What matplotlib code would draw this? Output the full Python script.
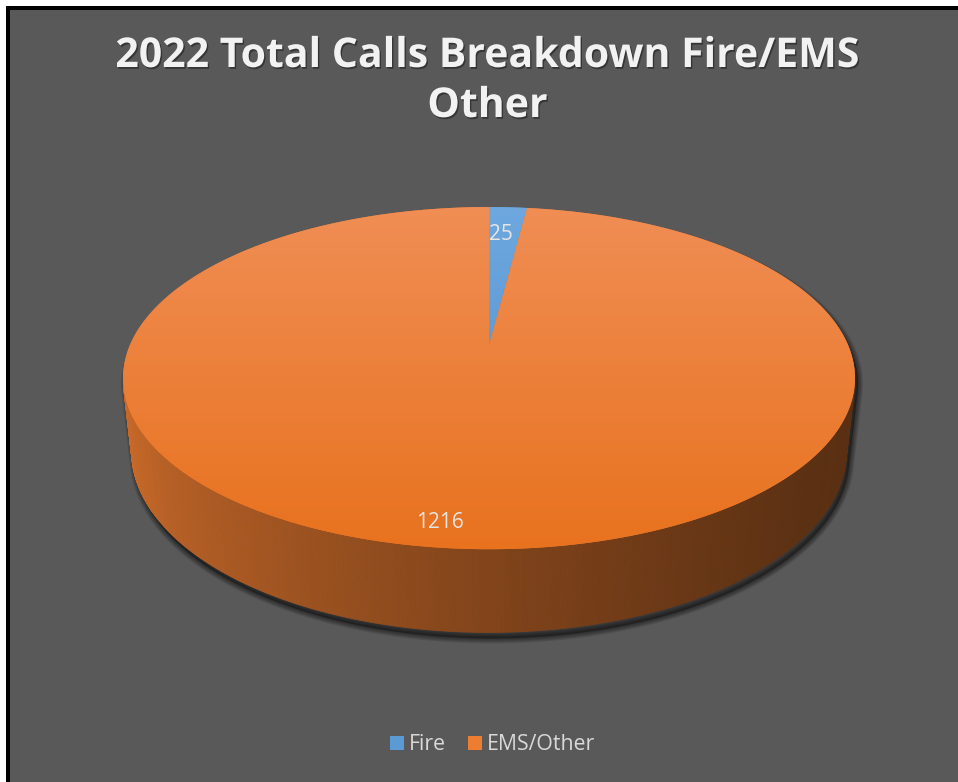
import numpy as np
import matplotlib
matplotlib.use("Agg")
import matplotlib.pyplot as plt
from matplotlib.patches import Polygon, Rectangle, Patch
from matplotlib.collections import PolyCollection
import matplotlib.patheffects as pe
from matplotlib.colors import LinearSegmentedColormap, to_rgb

# ---------------- data ----------------
title_lines = ["2022 Total Calls Breakdown Fire/EMS", "Other"]
categories = ["Fire", "EMS/Other"]
values = [25, 1216]

# ---------------- style ----------------
colors = ["#5B9BD5", "#ED7D31"]
top_light = ["#6EA8DF", "#F08E55"]
top_dark = ["#4A8BCB", "#E8721E"]
BG = "#595959"
TEXT_COL = "#D9D9D9"
LABEL_COL = "#E6E6E6"
FONT = ["Open Sans", "DejaVu Sans"]

W, H = 958, 782
# 3-D pie camera / layout parameters (pixel space)
CX, CY, SCALE = 489.0, 345.0, 1648.0
ELEV, DIST, THICK = np.radians(27.3), 4.59, 0.231
ce, se = np.cos(ELEV), np.sin(ELEV)
LABEL_R = [0.79, 0.90]
LABEL_DANG = [0.0, np.radians(-3.6)]


def project(r, phi, z):
    x = r * np.cos(phi)
    y = r * np.sin(phi)
    d = DIST + y * ce - z * se
    return CX + SCALE * x / d, CY - SCALE * (y * se + z * ce) / d


fig = plt.figure(figsize=(W / 100, H / 100), dpi=100, facecolor="white")
ax = fig.add_axes([0, 0, 1, 1])
ax.axis("off")

ax.add_patch(Rectangle((8, 8), W + 20, H + 20, facecolor=BG,
                       edgecolor="black", linewidth=2.9, zorder=0))

frac = np.array(values, dtype=float) / np.sum(values)
cum = np.concatenate([[0.0], np.cumsum(frac)])
bounds = np.pi / 2 - 2 * np.pi * cum  # clockwise from 12 o'clock

# ---- shadow (silhouette) ----
phi0 = np.arcsin(1.0 / (DIST * ce))
t_phi = np.linspace(-phi0, np.pi + phi0, 300)
b_phi = np.linspace(np.pi + phi0, 2 * np.pi - phi0, 300)
tx, ty = project(1.0, t_phi, 0.0)
bx, by = project(1.0, b_phi, -THICK)
sil = np.column_stack([np.r_[tx, bx], np.r_[ty, by]])
sh = sil + np.array([3.0, 6.0])
for k in range(1, 11):
    ax.add_patch(Polygon(sh, closed=True, facecolor="none", edgecolor="black",
                         linewidth=k * 0.75, alpha=0.05, joinstyle="round",
                         zorder=1))
ax.add_patch(Polygon(sh, closed=True, facecolor="black", edgecolor="none",
                     alpha=0.35, zorder=1))

# ---- side wall ----
side_phi = np.linspace(-np.pi + phi0, -phi0, 400)
quads, qcols = [], []
for a, b in zip(side_phi[:-1], side_phi[1:]):
    xa, ya = project(1.0, a, 0.0)
    xb, yb = project(1.0, b, 0.0)
    xa2, ya2 = project(1.0, a, -THICK)
    xb2, yb2 = project(1.0, b, -THICK)
    quads.append([(xa, ya), (xb, yb), (xb2, yb2), (xa2, ya2)])
    m = 0.5 * (a + b)
    t = ((np.pi / 2 - m) % (2 * np.pi)) / (2 * np.pi)
    idx = min(np.searchsorted(cum[1:], t), len(values) - 1)
    shade = 0.636 - 0.242 * np.cos(m) + 0.0858 * np.sin(m)
    qcols.append(np.clip(np.array(to_rgb(colors[idx])) * shade, 0, 1))
ax.add_collection(PolyCollection(quads, facecolors=qcols, edgecolors=qcols,
                                 linewidths=0.6, zorder=2))

# ---- top face wedges ----
_, ytop = project(1.0, np.pi / 2, 0.0)
_, ybot = project(1.0, -np.pi / 2, 0.0)
ax0, ay0 = project(0.0, 0.0, 0.0)
grad = np.linspace(0, 1, 256).reshape(-1, 1)
for i in range(len(values)):
    n = max(int(abs(bounds[i + 1] - bounds[i]) / (2 * np.pi) * 720), 8)
    ph = np.linspace(bounds[i], bounds[i + 1], n)
    xs, ys = project(1.0, ph, 0.0)
    poly = Polygon(np.column_stack([np.r_[ax0, xs], np.r_[ay0, ys]]),
                   closed=True, facecolor=colors[i], edgecolor="none",
                   zorder=3)
    ax.add_patch(poly)
    cmap = LinearSegmentedColormap.from_list("g%d" % i,
                                             [top_light[i], top_dark[i]])
    im = ax.imshow(grad, extent=(CX - 400, CX + 400, ybot + 2, ytop - 2),
                   cmap=cmap, aspect="auto", origin="upper", zorder=3.5,
                   interpolation="bilinear")
    im.set_clip_path(poly)

# ---- data labels ----
for i, v in enumerate(values):
    mid = 0.5 * (bounds[i] + bounds[i + 1]) + LABEL_DANG[i]
    lx, ly = project(LABEL_R[i], mid, 0.0)
    ax.text(lx - (4 if i == 0 else 0), ly + (2 if i == 0 else 0), str(v),
            ha="center", va="center", fontsize=15,
            family=FONT, color=LABEL_COL, zorder=5)

# ---- title ----
renderer = fig.canvas.get_renderer()
shadow = [pe.withSimplePatchShadow(offset=(1.0, -1.3), shadow_rgbFace="black",
                                   alpha=0.4)]
t1 = ax.text(487.5, 67, title_lines[0], ha="center", va="baseline",
             fontsize=24, fontweight="bold", family=FONT, color="#F2F2F2",
             zorder=6)
bb = t1.get_window_extent(renderer)
fs = 24 * 745.0 / bb.width
t1.set_fontsize(fs)
t1.set_path_effects(shadow)
t2 = ax.text(487.5, 117, title_lines[1], ha="center", va="baseline",
             fontsize=fs, fontweight="bold", family=FONT, color="#F2F2F2",
             zorder=6, path_effects=shadow)

# ---- legend ----
handles = [Patch(facecolor=c, edgecolor="none", label=l)
           for c, l in zip(colors, categories)]
ax.legend(handles=handles, loc="center", bbox_to_anchor=(492.5 / W, 1 - 745.0 / H),
          bbox_transform=fig.transFigure, ncol=2, frameon=False,
          prop={"family": FONT, "size": 15.3}, labelcolor=TEXT_COL,
          handlelength=0.66, handleheight=0.66, handletextpad=0.25,
          columnspacing=1.0, borderaxespad=0, borderpad=0)

ax.set_xlim(0, W)
ax.set_ylim(H, 0)
fig.savefig("out.png", dpi=100, facecolor="white")
